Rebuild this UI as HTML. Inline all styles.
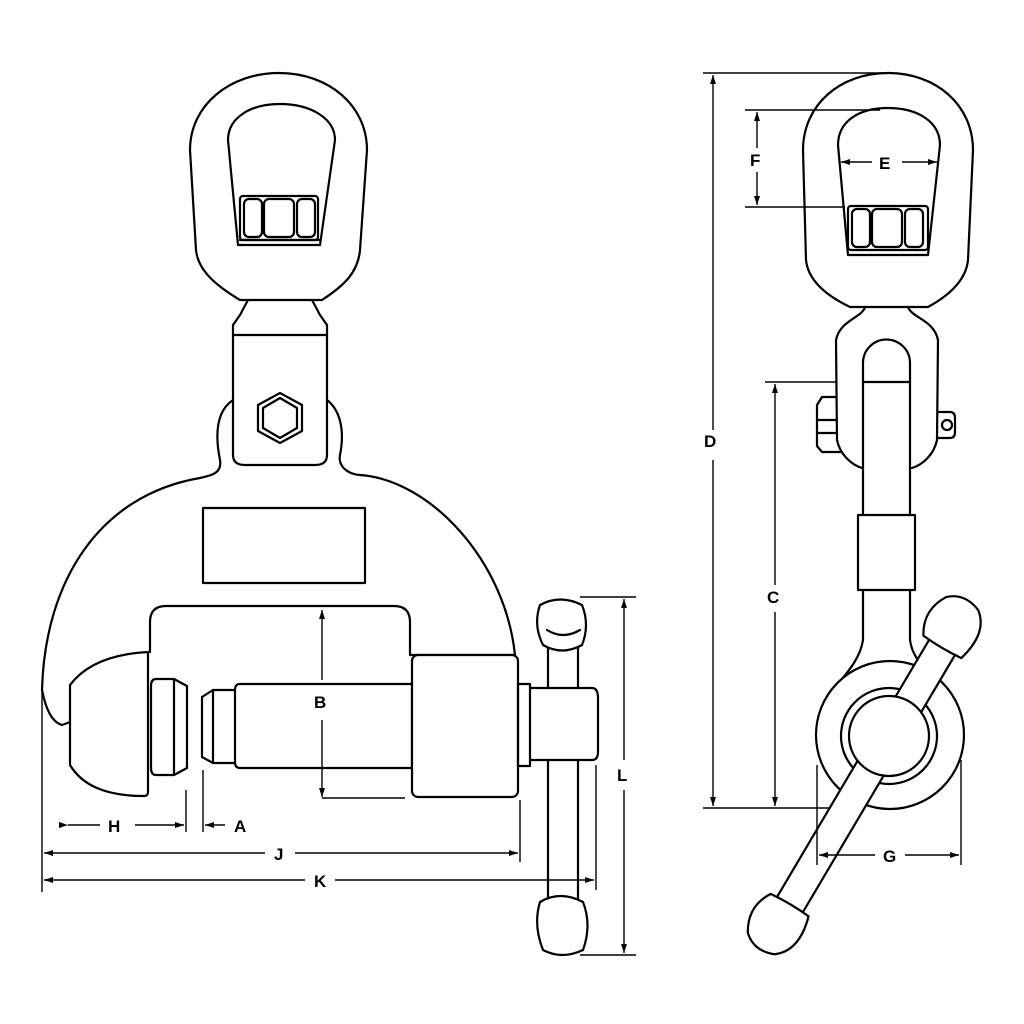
<!DOCTYPE html>
<html><head><meta charset="utf-8"><style>
html,body{margin:0;padding:0;background:#fff}
svg{display:block}
text{font-family:"Liberation Sans",sans-serif;font-weight:bold;font-size:17px;fill:#000}
</style></head><body>
<svg width="1024" height="1024" viewBox="0 0 1024 1024" xmlns="http://www.w3.org/2000/svg">
<defs>
<marker id="ar" markerWidth="10" markerHeight="8" refX="9" refY="4" orient="auto" markerUnits="userSpaceOnUse">
<path d="M0,1 L9,4 L0,7 z" fill="#000"/></marker>
</defs>
<g fill="none" stroke="#000" stroke-width="2.2" stroke-linejoin="round" stroke-linecap="round">
<!-- LEFT VIEW -->
<path d="M240,300 C215,285 198,270 196,250 L190,150 C190,105 230,73 279,73 C328,73 367,105 367,150 L360,250 C358,272 345,285 322,300 Z" fill="#fff"/>
<path d="M238,245 L228,140 C228,118 250,104 280,104 C310,104 335,118 335,140 L320,245 Z"/>
<rect x="240" y="196" width="78" height="44" rx="3"/>
<rect x="244" y="199" width="18" height="38" rx="5"/>
<rect x="264" y="199" width="30" height="38" rx="5"/>
<rect x="297" y="199" width="18" height="38" rx="5"/>
<line x1="240" y1="240" x2="320" y2="240"/>
<path d="M248,300 L240,315 L233,325 L233,335 L327,335 L327,325 L320,315 L312,300"/>
<path d="M233,335 L233,455 Q233,465 245,465 L315,465 Q327,465 327,455 L327,335"/>
<polygon points="280,393 302,405 302,431 280,443 258,431 258,405"/>
<polygon points="280,398 297,408 297,428 280,438 263,428 263,408"/>
<!-- body -->
<path d="M233,400 C218,410 214,430 220,460 C222,472 214,475 200,478 C100,495 45,580 42,690 C46,710 52,722 62,725 L70,722"/>
<path d="M150,652 L150,622 Q150,606 166,606 L394,606 Q410,606 410,622 L410,655 L515,655 C505,560 430,480 360,475 C346,474 338,465 340,455 C345,430 340,410 327,400"/>
<rect x="203" y="508" width="162" height="75"/>
<!-- dome pad -->
<path d="M148,652 L148,792 Q148,796 144,796 C105,796 82,785 70,765 L70,685 C85,665 110,654 148,652 Z" fill="#fff"/>
<!-- pad -->
<path d="M156,679 L174,679 L187,686 L187,768 L174,775 L156,775 Q151,775 151,768 L151,686 Q151,679 156,679 Z"/>
<line x1="174" y1="679" x2="174" y2="775"/>
<!-- screw -->
<path d="M240,684 L412,684 L412,768 L240,768 Q235,768 235,762 L235,690 Q235,684 240,684 Z"/>
<path d="M235,690 L213,690 L202,697 L202,757 L213,763 L235,763"/>
<line x1="213" y1="690" x2="213" y2="763"/>
<!-- right block -->
<rect x="412" y="655" width="106" height="142" rx="6" fill="#fff"/>
<rect x="518" y="684" width="12" height="82"/>
<path d="M530,688 L592,688 Q598,688 598,698 L598,752 Q598,760 592,760 L530,760"/>
<!-- T handle -->
<path d="M548,645 L548,688 M578,645 L578,688"/>
<path d="M548,760 L548,900 M578,760 L578,900"/>
<path d="M540,605 Q560,594 582,605 Q590,625 582,645 Q562,656 543,645 Q533,625 540,605 Z" fill="#fff"/>
<path d="M547,630 Q563,640 580,630"/>
<path d="M540,902 Q560,890 583,902 Q592,925 583,950 Q562,960 543,950 Q533,925 540,902 Z" fill="#fff"/>
</g>
<g fill="none" stroke="#000" stroke-width="1.4">
<line x1="42" y1="690" x2="42" y2="892"/>
<line x1="186" y1="790" x2="186" y2="832"/>
<line x1="203" y1="770" x2="203" y2="832"/>
<line x1="520" y1="800" x2="520" y2="862"/>
<line x1="596" y1="765" x2="596" y2="890"/>
<line x1="68" y1="825" x2="100" y2="825" marker-start="url(#ar)"/>
<line x1="135" y1="825" x2="184" y2="825" marker-end="url(#ar)"/>
<line x1="225" y1="825" x2="205" y2="825" marker-end="url(#ar)"/>
<line x1="265" y1="853" x2="44" y2="853" marker-end="url(#ar)"/>
<line x1="295" y1="853" x2="518" y2="853" marker-end="url(#ar)"/>
<line x1="305" y1="880" x2="44" y2="880" marker-end="url(#ar)"/>
<line x1="335" y1="880" x2="594" y2="880" marker-end="url(#ar)"/>
<line x1="322" y1="680" x2="322" y2="610" marker-end="url(#ar)"/>
<line x1="322" y1="720" x2="322" y2="797" marker-end="url(#ar)"/>
<line x1="322" y1="798" x2="405" y2="798"/>
<line x1="580" y1="597" x2="636" y2="597"/>
<line x1="580" y1="955" x2="636" y2="955"/>
<line x1="624" y1="760" x2="624" y2="599" marker-end="url(#ar)"/>
<line x1="624" y1="790" x2="624" y2="953" marker-end="url(#ar)"/>
</g>
<text x="108" y="832">H</text>
<text x="234" y="832">A</text>
<text x="274" y="860">J</text>
<text x="314" y="887">K</text>
<text x="314" y="708">B</text>
<text x="617" y="781">L</text>

<g fill="none" stroke="#000" stroke-width="2.2" stroke-linejoin="round" stroke-linecap="round">
<!-- RIGHT VIEW -->
<path d="M850,307 C825,295 808,280 806,260 L803,150 C803,105 840,73 888,73 C936,73 973,105 973,150 L968,260 C966,280 950,295 928,307 Z" fill="#fff"/>
<path d="M848,255 L838,145 C838,122 858,108 888,108 C918,108 940,122 940,145 L928,255 Z"/>
<rect x="848" y="206" width="80" height="44" rx="3"/>
<rect x="852" y="209" width="18" height="38" rx="5"/>
<rect x="872" y="209" width="30" height="38" rx="5"/>
<rect x="905" y="209" width="18" height="38" rx="5"/>
<!-- shackle -->
<path d="M865,307 C862,318 840,320 836,340 L837,440 C840,455 852,465 862,468"/>
<path d="M908,307 C912,318 934,320 938,340 L937,440 C934,455 922,465 912,468"/>
<path d="M863,640 L863,363 A23,23 0 0 1 910,363 L910,640"/>
<line x1="863" y1="382" x2="910" y2="382"/>
<path d="M836,397 L822,397 L817,405 L817,446 L822,452 L840,452"/>
<line x1="817" y1="420" x2="836" y2="420"/><line x1="817" y1="433" x2="836" y2="433"/>
<path d="M938,412 L950,412 Q955,412 955,418 L955,432 Q955,438 950,438 L938,438"/>
<circle cx="947" cy="425" r="5"/>
<!-- arm -->
<path d="M863,640 C860,660 845,675 833,690"/>
<path d="M910,640 C912,655 920,665 935,675"/>
<rect x="858" y="515" width="57" height="75" fill="#fff"/>
<!-- hub -->
<circle cx="890" cy="735" r="74" fill="#fff"/>
<circle cx="889" cy="736" r="48"/>
<g transform="translate(866,776) rotate(-59.4)">
<rect x="-150" y="-15" width="300" height="30" fill="#fff"/>
<path d="M150,-22 Q148,0 150,22 Q185,32 200,12 Q208,-8 195,-22 Q172,-36 150,-22 Z" fill="#fff"/>
<path d="M-150,-22 Q-148,0 -150,22 Q-185,32 -200,12 Q-208,-8 -195,-22 Q-172,-36 -150,-22 Z" fill="#fff"/>
</g>
<circle cx="889" cy="736" r="40" fill="#fff"/>
</g>
<g fill="none" stroke="#000" stroke-width="1.4">
<line x1="703" y1="73" x2="888" y2="73"/>
<line x1="703" y1="808" x2="830" y2="808"/>
<line x1="713" y1="430" x2="713" y2="75" marker-end="url(#ar)"/>
<line x1="713" y1="460" x2="713" y2="806" marker-end="url(#ar)"/>
<line x1="765" y1="382" x2="836" y2="382"/>
<line x1="775" y1="585" x2="775" y2="384" marker-end="url(#ar)"/>
<line x1="775" y1="612" x2="775" y2="806" marker-end="url(#ar)"/>
<line x1="745" y1="110" x2="880" y2="110"/>
<line x1="745" y1="207" x2="845" y2="207"/>
<line x1="757" y1="148" x2="757" y2="112" marker-end="url(#ar)"/>
<line x1="757" y1="172" x2="757" y2="205" marker-end="url(#ar)"/>
<line x1="872" y1="162" x2="841" y2="162" marker-end="url(#ar)"/>
<line x1="902" y1="162" x2="937" y2="162" marker-end="url(#ar)"/>
<line x1="817" y1="765" x2="817" y2="865"/>
<line x1="961" y1="760" x2="961" y2="865"/>
<line x1="875" y1="855" x2="819" y2="855" marker-end="url(#ar)"/>
<line x1="905" y1="855" x2="959" y2="855" marker-end="url(#ar)"/>
</g>
<text x="704" y="447">D</text>
<text x="767" y="603">C</text>
<text x="750" y="166">F</text>
<text x="879" y="169">E</text>
<text x="883" y="862">G</text>
</svg>
</body></html>
